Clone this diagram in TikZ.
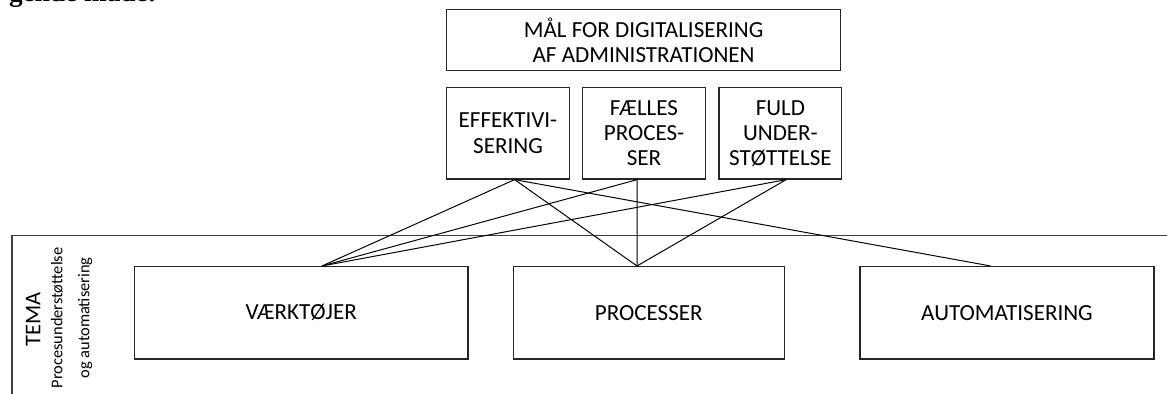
\documentclass[tikz,border=0pt]{standalone}
\usepackage{fontspec}
\setmainfont{Carlito}
\newfontfamily\introfont{Liberation Serif}

\begin{document}
\begin{tikzpicture}[
        box/.style={draw=black!85, line width=0.9pt, align=center, inner sep=0pt, font=\fontsize{16.4}{17.8}\selectfont},
        goal/.style={box, minimum width=3.07cm, minimum height=2.29cm},
        area/.style={box, minimum height=2.31cm},
        link/.style={line width=0.7pt},
        frame/.style={draw=black!75, line width=1.1pt}
    ]
        \useasboundingbox (0,0) rectangle (29.175,9.85);
        \begin{scope}
            \clip (0,0) rectangle (29.175,9.85);
            \node[anchor=base west, inner sep=0pt, font=\introfont\bfseries\fontsize{19.4}{20}\selectfont] (intro) at (0.22,9.81) {gende måde:};
        \end{scope}

        \node[box, minimum width=9.85cm, minimum height=1.535cm] (maal) at (16.09,8.85) {MÅL FOR DIGITALISERING\\AF ADMINISTRATIONEN};
        \node[goal] (eff) at (12.70,6.52) {EFFEKTIVI-\\SERING};
        \node[goal] (faelles) at (16.10,6.52) {FÆLLES\\PROCES-\\SER};
        \node[goal] (fuld) at (19.51,6.52) {FULD\\UNDER-\\STØTTELSE};

        \draw[frame] (0.3,0) -- (0.3,3.96) -- (29.175,3.96);
        \node[rotate=90, inner sep=0pt, font=\fontsize{16}{18}\selectfont] (tema) at (0.83,1.87) {TEMA};
        \node[rotate=90, inner sep=0pt, align=center, font=\fontsize{11.7}{19.2}\selectfont] (temanavn) at (1.79,1.9) {Procesunderstøttelse\\og automatisering};

        \node[area, minimum width=8.34cm] (vaerk) at (7.53,2.03) {VÆRKTØJER};
        \node[area, minimum width=6.78cm] (proc) at (16.22,2.03) {PROCESSER};
        \node[area, minimum width=7.35cm] (auto) at (25.175,2.03) {AUTOMATISERING};

        \draw[link] ([xshift=1.65mm]eff.south) -- ([xshift=5.2mm]vaerk.north);
        \draw[link] ([xshift=1.65mm]eff.south) -- ([xshift=-2.95mm]proc.north);
        \draw[link] ([xshift=1.65mm]eff.south) -- ([xshift=-4.1mm]auto.north);
        \draw[link] ([xshift=-1.7mm]faelles.south) -- ([xshift=5.2mm]vaerk.north);
        \draw[link] ([xshift=-1.7mm]faelles.south) -- ([xshift=-2.95mm]proc.north);
        \draw[link] ([xshift=1.45mm]fuld.south) -- ([xshift=5.2mm]vaerk.north);
        \draw[link] ([xshift=1.45mm]fuld.south) -- ([xshift=-2.95mm]proc.north);
    \end{tikzpicture}
\end{document}
